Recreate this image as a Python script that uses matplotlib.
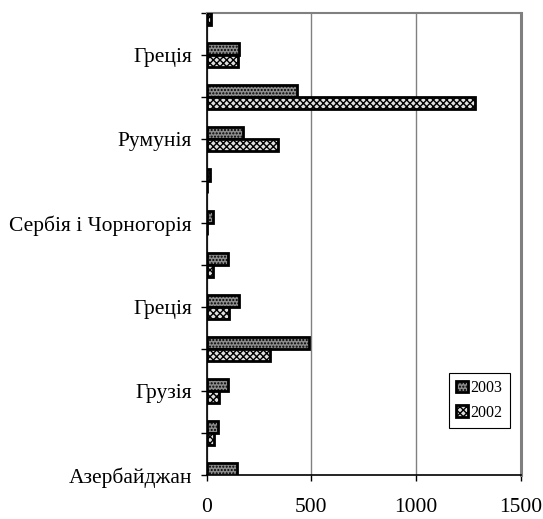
import matplotlib
matplotlib.use("Agg")
import matplotlib.pyplot as plt
import numpy as np

plt.rcParams['font.family'] = ['Liberation Serif', 'DejaVu Serif']
plt.rcParams['hatch.linewidth'] = 1.0

categories = ["Азербайджан", "", "Грузія", "", "Греція", "", "Сербія і Чорногорія",
              "", "Румунія", "", "Греція", ""]
values_2003 = [144, 55, 104, 487, 157, 104, 30, 17, 176, 431, 155, 0]
values_2002 = [0, 36, 60, 305, 106, 33, 0, 0, 343, 1280, 149, 20]
x_ticks = [0, 500, 1000, 1500]

fig = plt.figure(figsize=(5.43, 5.19), dpi=100)
ax = fig.add_axes([0.3803, 0.0848, 0.5786, 0.8902])

pos = np.arange(len(categories))
h = 0.29
ax.barh(pos + h / 2, values_2003, height=h, color='#8c8c8c', edgecolor='black',
        linewidth=2.0, hatch='.....', label='2003', zorder=3)
ax.barh(pos - h / 2, values_2002, height=h, color='#e0e0e0', edgecolor='black',
        linewidth=2.0, hatch='xxxxx', label='2002', zorder=3)

ax.set_xlim(0, 1500)
ax.set_ylim(0, 11)
ax.set_xticks(x_ticks)
ax.set_xticklabels([str(v) for v in x_ticks], fontsize=15.5)
ax.set_yticks(pos)
ax.set_yticklabels(categories, fontsize=15.5)
ax.tick_params(axis='y', direction='out', length=4.5, width=1, pad=6)
ax.tick_params(axis='x', direction='out', length=4.5, width=1, pad=12)

ax.xaxis.grid(True, color='#808080', linewidth=1.0, zorder=0)
ax.set_axisbelow(True)

ax.spines['left'].set_color('black')
ax.spines['left'].set_linewidth(1.2)
ax.spines['bottom'].set_color('black')
ax.spines['bottom'].set_linewidth(1.2)
ax.spines['top'].set_color('#808080')
ax.spines['top'].set_linewidth(1.5)
ax.spines['right'].set_color('#808080')
ax.spines['right'].set_linewidth(2.2)

leg = ax.legend(loc='lower left', bbox_to_anchor=(0.827, 0.1753), bbox_transform=fig.transFigure,
                fontsize=11.5, frameon=True, fancybox=False, edgecolor='black',
                handlelength=0.75, handleheight=0.75, handletextpad=0.15, labelspacing=0.55,
                borderpad=0.45, borderaxespad=0, framealpha=1)
leg.get_frame().set_linewidth(0.8)

fig.savefig('out.png', dpi=100)
